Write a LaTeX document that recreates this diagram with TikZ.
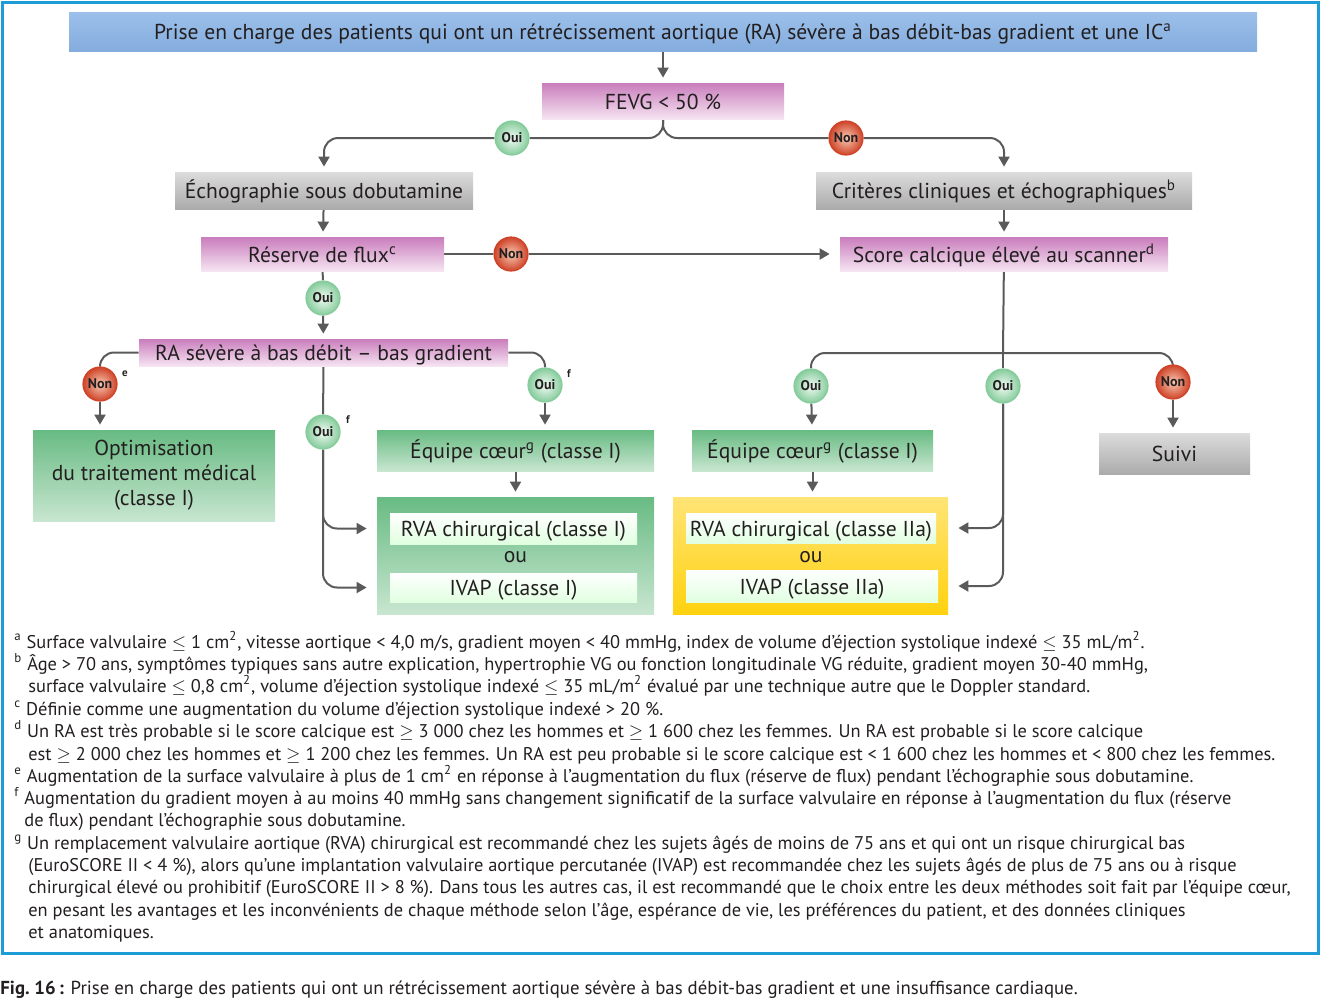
\documentclass[tikz,border=0pt]{standalone}
\usepackage{fontspec}
\setmainfont{PT Sans}
\usetikzlibrary{arrows.meta,backgrounds,calc,shapes}
\definecolor{txt}{HTML}{231F20}
\definecolor{lin}{HTML}{5A5A5A}
\definecolor{frame}{HTML}{1E9CD7}
\definecolor{bluet}{HTML}{9CC0EA}
\definecolor{blueb}{HTML}{84ACDD}
\definecolor{pinkt}{HTML}{C97DBC}
\definecolor{pinkb}{HTML}{F6E4F2}
\definecolor{grayt}{HTML}{DCDCDC}
\definecolor{grayb}{HTML}{ABABAB}
\definecolor{greent}{HTML}{68BB83}
\definecolor{greenb}{HTML}{C8E6D0}
\definecolor{yellt}{HTML}{FFE476}
\definecolor{yellb}{HTML}{FFD20F}
\definecolor{ouii}{HTML}{F2FBF4}
\definecolor{ouio}{HTML}{86CC9C}
\definecolor{noni}{HTML}{F7C9B3}
\definecolor{nono}{HTML}{CF4429}
\tikzset{
    box/.style = {rectangle, inner sep=0pt, text=txt,
        font=\fontsize{10.8}{12.5}\selectfont, align=center},
    oneline/.style = {text height=9.5pt, text depth=1.2pt},
    bluebox/.style = {box, oneline, top color=bluet, bottom color=blueb},
    pinkbox/.style = {box, oneline, top color=pinkt, bottom color=pinkb},
    graybox/.style = {box, oneline, top color=grayt, bottom color=grayb},
    greenbox/.style = {box, top color=greent, bottom color=greenb},
    yellbox/.style = {box, top color=yellt, bottom color=yellb},
    whitebox/.style = {box, oneline, top color=white, bottom color=white!88!green},
    badge/.style = {circle, minimum size=17pt, inner sep=0pt, line width=0.6pt,
        font=\fontsize{7}{7}\selectfont\bfseries, text=txt},
    oui/.style = {badge, draw=ouio, inner color=ouii, outer color=ouio},
    non/.style = {badge, draw=nono, inner color=noni, outer color=nono},
    sup/.style = {inner sep=0pt, text=txt, font=\fontsize{5.5}{6}\selectfont\bfseries},
    line/.style = {draw=lin, line width=1pt},
    arrow/.style = {line, -{Triangle[length=5pt,width=5.5pt]}, shorten >=2.5pt},
    note/.style = {anchor=base west, inner sep=0pt, text=txt, font=\fontsize{9.2}{11}\selectfont}
}

\begin{document}
\begin{tikzpicture}[x=0.5pt, y=-0.5pt]
    \useasboundingbox (0,0) rectangle (1320,998);
    \draw[frame, line width=1.5pt] (2,2) rectangle (1318,953);

    \node[bluebox, minimum width=594pt, minimum height=19.5pt] (title) at (663,31.5)
        {Prise en charge des patients qui ont un rétrécissement aortique (RA) sévère à bas débit-bas gradient et une IC\textsuperscript{a}};
    \node[pinkbox, minimum width=121pt, minimum height=18pt] (fevg) at (663,101) {FEVG < 50 \%};
    \node[graybox, minimum width=149pt, minimum height=18.5pt] (echo) at (324,190.5) {Échographie sous dobutamine};
    \node[graybox, minimum width=188pt, minimum height=18.5pt] (crit) at (1004,190.5) {Critères cliniques et échographiques\textsuperscript{b}};
    \node[pinkbox, minimum width=121.5pt, minimum height=17pt] (reserve) at (322.5,254) {Réserve de flux\textsuperscript{c}};
    \node[pinkbox, minimum width=164pt, minimum height=17pt] (score) at (1004,254) {Score calcique élevé au scanner\textsuperscript{d}};
    \node[pinkbox, minimum width=184.5pt, minimum height=13.5pt] (rasev) at (323.5,352.5) {RA sévère à bas débit – bas gradient};
    \node[greenbox, minimum width=121pt, minimum height=45.5pt] (optim) at (154,475.5) {Optimisation\\du traitement médical\\(classe I)};
    \node[greenbox, oneline, minimum width=138.5pt, minimum height=20.5pt] (equipeL) at (515.5,450.5) {Équipe cœur\textsuperscript{g} (classe I)};
    \node[greenbox, minimum width=138.5pt, minimum height=58.5pt] (choixL) at (515.5,555.5) {};
    \node[whitebox, minimum width=123.5pt, minimum height=15.5pt] (rvaL) at (513.5,528.5) {RVA chirurgical (classe I)};
    \node[box] (ouL) at (515.5,557) {ou};
    \node[whitebox, minimum width=123.5pt, minimum height=14.5pt] (ivapL) at (513.5,587.5) {IVAP (classe I)};
    \node[greenbox, oneline, minimum width=120.5pt, minimum height=20.5pt] (equipeR) at (812.5,450.5) {Équipe cœur\textsuperscript{g} (classe I)};
    \node[yellbox, minimum width=137.5pt, minimum height=58.5pt] (choixR) at (810.5,555.5) {};
    \node[whitebox, minimum width=125pt, minimum height=15pt] (rvaR) at (811,528) {RVA chirurgical (classe IIa)};
    \node[box] (ouR) at (811,557) {ou};
    \node[whitebox, minimum width=126pt, minimum height=16pt] (ivapR) at (812,586) {IVAP (classe IIa)};
    \node[graybox, minimum width=75.5pt, minimum height=20.5pt] (suivi) at (1174.5,453.5) {Suivi};

    \node[oui] (ouiA) at (512,138) {Oui};
    \node[non] (nonA) at (846,138) {Non};
    \node[non] (nonB) at (511,254) {Non};
    \node[oui] (ouiB) at (323,298) {Oui};
    \node[non] (nonC) at (100,384) {Non};
    \node[oui] (ouiC) at (545,385) {Oui};
    \node[oui] (ouiD) at (323,432) {Oui};
    \node[oui] (ouiE) at (811,386) {Oui};
    \node[oui] (ouiF) at (1003,386) {Oui};
    \node[non] (nonE) at (1173,382) {Non};
    \node[sup] (supE) at (125,374) {e};
    \node[sup] (supF1) at (569,374) {f};
    \node[sup] (supF2) at (348,420) {f};
    \coordinate (jR) at (1003,353);

    \begin{scope}[on background layer]
        \draw[arrow] (title) -- (fevg);
        \draw[line, rounded corners=7pt] (fevg.south) |- (ouiA);
        \draw[arrow, rounded corners=7pt] (ouiA) -| (echo.north);
        \draw[line, rounded corners=7pt] (fevg.south) |- (nonA);
        \draw[arrow, rounded corners=7pt] (nonA) -| (crit.north);
        \draw[arrow] (echo) -- (reserve);
        \draw[arrow] (crit) -- (score);
        \draw[line] (reserve) -- (nonB);
        \draw[arrow, shorten >=5pt] (nonB) -- (score);
        \draw[line] (reserve) -- (ouiB);
        \draw[arrow] (ouiB) -- (rasev);
        \draw[line, rounded corners=7pt] (rasev.west) -| (nonC);
        \draw[arrow] (nonC) -- (nonC |- optim.north);
        \draw[line, rounded corners=7pt] (rasev.east) -| (ouiC);
        \draw[arrow] (ouiC) -- (ouiC |- equipeL.north);
        \draw[line] (rasev) -- (ouiD);
        \draw[arrow, rounded corners=7pt, shorten >=5pt] (ouiD) |- (choixL.west |- rvaL);
        \draw[arrow, rounded corners=7pt, shorten >=5pt] (ouiD) |- (choixL.west |- ivapL);
        \draw[arrow] (equipeL) -- (choixL);
        \draw[line] (score) -- (jR);
        \draw[line, rounded corners=7pt] (jR) -| (ouiE);
        \draw[line, rounded corners=7pt] (jR) -| (nonE);
        \draw[line] (jR) -- (ouiF);
        \draw[arrow] (ouiE) -- (equipeR);
        \draw[arrow] (equipeR) -- (equipeR.south |- choixR.north);
        \draw[arrow] (nonE) -- (nonE |- suivi.north);
        \draw[arrow, rounded corners=7pt, shorten >=5pt] (ouiF) |- (choixR.east |- rvaR);
        \draw[arrow, rounded corners=7pt, shorten >=5pt] (ouiF) |- (choixR.east |- ivapR);
    \end{scope}

    \node[note] (fa1) at (14,648) {\textsuperscript{a} Surface valvulaire $\leq$ 1 cm\textsuperscript{2}, vitesse aortique < 4,0 m/s, gradient moyen < 40 mmHg, index de volume d’éjection systolique indexé $\leq$ 35 mL/m\textsuperscript{2}.};
    \node[note] (fb1) at (14,670) {\textsuperscript{b} Âge > 70 ans, symptômes typiques sans autre explication, hypertrophie VG ou fonction longitudinale VG réduite, gradient moyen 30-40 mmHg,};
    \node[note] (fb2) at (28,692) {surface valvulaire $\leq$ 0,8 cm\textsuperscript{2}, volume d’éjection systolique indexé $\leq$ 35 mL/m\textsuperscript{2} évalué par une technique autre que le Doppler standard.};
    \node[note] (fc1) at (14,715) {\textsuperscript{c} Définie comme une augmentation du volume d’éjection systolique indexé > 20 \%.};
    \node[note] (fd1) at (14,737) {\textsuperscript{d} Un RA est très probable si le score calcique est $\geq$ 3 000 chez les hommes et $\geq$ 1 600 chez les femmes. Un RA est probable si le score calcique};
    \node[note] (fd2) at (28,760) {est $\geq$ 2 000 chez les hommes et $\geq$ 1 200 chez les femmes. Un RA est peu probable si le score calcique est < 1 600 chez les hommes et < 800 chez les femmes.};
    \node[note] (fe1) at (14,782) {\textsuperscript{e} Augmentation de la surface valvulaire à plus de 1 cm\textsuperscript{2} en réponse à l’augmentation du flux (réserve de flux) pendant l’échographie sous dobutamine.};
    \node[note] (ff1) at (14,804) {\textsuperscript{f} Augmentation du gradient moyen à au moins 40 mmHg sans changement significatif de la surface valvulaire en réponse à l’augmentation du flux (réserve};
    \node[note] (ff2) at (24,826) {de flux) pendant l’échographie sous dobutamine.};
    \node[note] (fg1) at (14,849) {\textsuperscript{g} Un remplacement valvulaire aortique (RVA) chirurgical est recommandé chez les sujets âgés de moins de 75 ans et qui ont un risque chirurgical bas};
    \node[note] (fg2) at (28,871) {(EuroSCORE II < 4 \%), alors qu’une implantation valvulaire aortique percutanée (IVAP) est recommandée chez les sujets âgés de plus de 75 ans ou à risque};
    \node[note] (fg3) at (28,893) {chirurgical élevé ou prohibitif (EuroSCORE II > 8 \%). Dans tous les autres cas, il est recommandé que le choix entre les deux méthodes soit fait par l’équipe cœur,};
    \node[note] (fg4) at (28,916) {en pesant les avantages et les inconvénients de chaque méthode selon l’âge, espérance de vie, les préférences du patient, et des données cliniques};
    \node[note] (fg5) at (28,938) {et anatomiques.};

    \node[note, font=\fontsize{9.4}{11}\selectfont] (caption) at (0,994)
        {\textbf{Fig.~16\,:} Prise en charge des patients qui ont un rétrécissement aortique sévère à bas débit-bas gradient et une insuffisance cardiaque.};
\end{tikzpicture}
\end{document}
